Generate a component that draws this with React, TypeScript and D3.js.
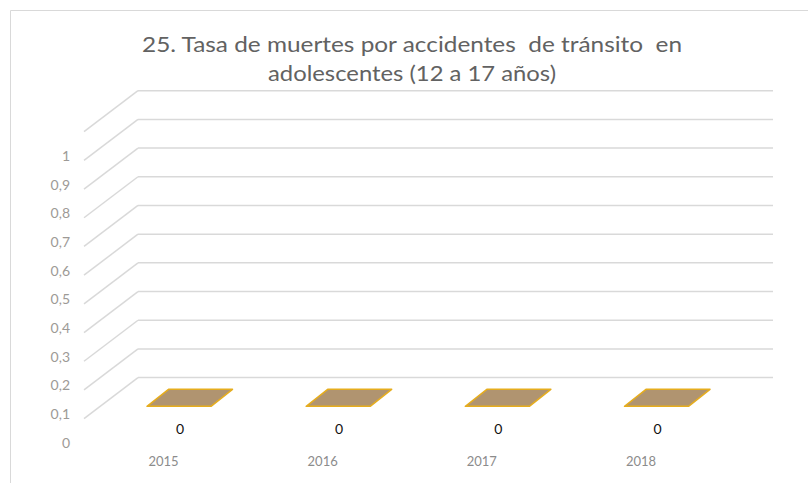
import React from "react";
import * as d3 from "d3";

const years = ["2015", "2016", "2017", "2018"];
const values = [0, 0, 0, 0];
const tickValues = [0, 0.1, 0.2, 0.3, 0.4, 0.5, 0.6, 0.7, 0.8, 0.9, 1];
const gridValues = [0.1, 0.2, 0.3, 0.4, 0.5, 0.6, 0.7, 0.8, 0.9, 1, 1.1];
const titleLines = [
  "25. Tasa de muertes por accidentes  de tránsito  en",
  "adolescentes (12 a 17 años)",
];
const titleWidths = [540, 288];

const W = 808;
const H = 483;
const FONT = "Lato, 'Open Sans', sans-serif";

export default function App() {
  const yBack = d3.scaleLinear().domain([0, 1.1]).range([406.3, 90.7]);
  const x = d3.scalePoint<string>().domain(years).range([179, 656.5]);
  const depthX = 54;
  const depthY = 41;
  const backX0 = 138;
  const backX1 = 773;
  const barW = 64;
  const barDX = 21.5;
  const barDY = 17;
  const fmt = (v: number) => (v === 0 ? "0" : d3.format(".1~f")(v).replace(".", ","));

  return (
    <svg
      width={W}
      height={H}
      style={{ position: "fixed", left: 0, top: 0, background: "#fff" }}
    >
      <rect x={0} y={0} width={W} height={H} fill="#fff" />
      <path d={`M10.5,${H} V10.5 H${W}`} fill="none" stroke="#d9d9d9" strokeWidth={1} />

      {titleLines.map((t, i) => (
        <text
          key={i}
          x={412}
          y={52 + i * 28.5}
          textAnchor="middle"
          fontFamily={FONT}
          fontSize={20.5}
          fill="#626262"
          textLength={titleWidths[i]}
          lengthAdjust="spacingAndGlyphs"
          style={{ whiteSpace: "pre" }}
        >
          {t}
        </text>
      ))}

      {gridValues.map((v) => {
        const yb = yBack(v);
        return (
          <g key={v}>
            <line x1={backX0} x2={backX1} y1={yb} y2={yb} stroke="#d9d9d9" strokeWidth={1.5} />
            <line x1={backX0 - depthX} x2={backX0} y1={yb + depthY} y2={yb} stroke="#d9d9d9" strokeWidth={1.5} />
          </g>
        );
      })}

      {tickValues.map((v) => (
        <text
          key={v}
          x={70}
          y={yBack(v) + depthY - 3}
          textAnchor="end"
          dominantBaseline="middle"
          fontFamily={FONT}
          fontSize={14}
          fill="#9d9a96"
        >
          {fmt(v)}
        </text>
      ))}

      {years.map((yr, i) => {
        const cx = x(yr)!;
        const yf = yBack(values[i]);
        const x0 = cx - barW / 2;
        const x1 = cx + barW / 2;
        const pts = [
          [x0, yf],
          [x1, yf],
          [x1 + barDX, yf - barDY],
          [x0 + barDX, yf - barDY],
        ];
        return (
          <g key={yr}>
            <polygon
              points={pts.map((p) => p.join(",")).join(" ")}
              fill="#b09470"
              stroke="#e6ad1e"
              strokeWidth={1.5}
              strokeLinejoin="round"
            />
            <text
              x={cx + 1}
              y={430}
              textAnchor="middle"
              dominantBaseline="middle"
              fontFamily={FONT}
              fontSize={14}
              fill="#111"
            >
              {values[i]}
            </text>
            <text
              x={cx - 15.5}
              y={463}
              textAnchor="middle"
              dominantBaseline="middle"
              fontFamily={FONT}
              fontSize={13}
              fill="#8c8c8c"
            >
              {yr}
            </text>
          </g>
        );
      })}
    </svg>
  );
}
